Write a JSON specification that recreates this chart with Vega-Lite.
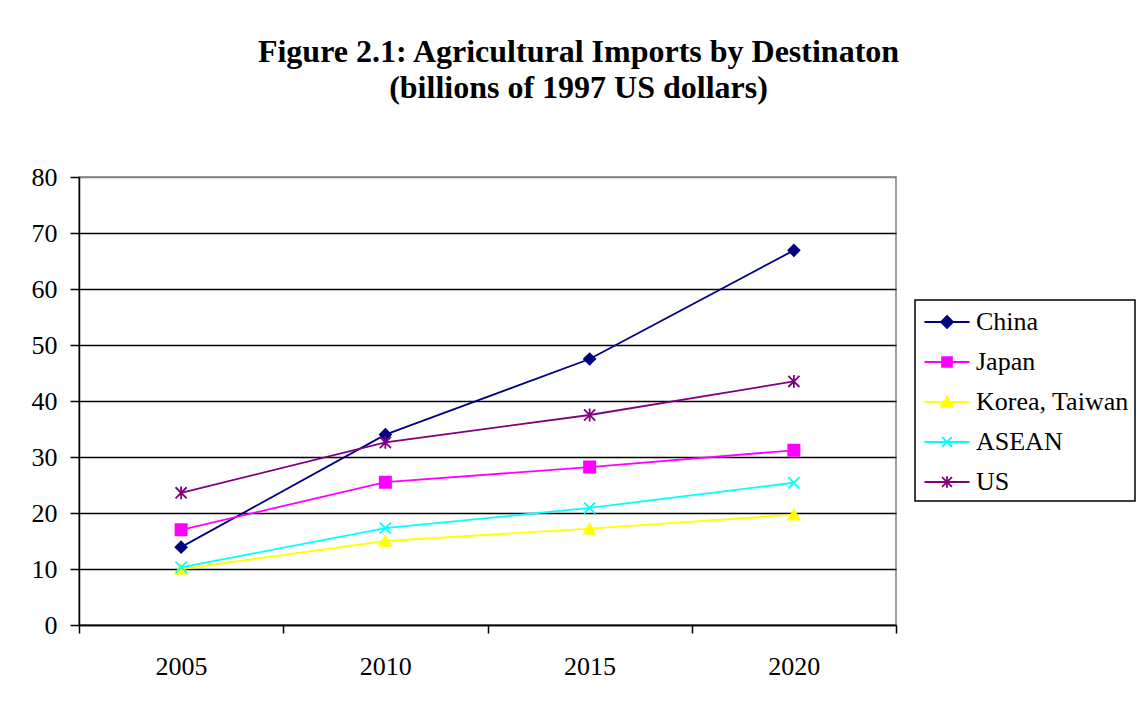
{
  "$schema": "https://vega.github.io/schema/vega-lite/v6.json",
  "width": 817,
  "height": 448,
  "autosize": {"type": "none"},
  "padding": {"left": 79, "top": 177, "right": 242, "bottom": 77},
  "background": "white",
  "title": {
    "text": ["Figure 2.1: Agricultural Imports by Destinaton", "(billions of 1997 US dollars)"],
    "font": "Liberation Serif",
    "fontSize": 32,
    "fontWeight": "bold",
    "lineHeight": 36,
    "color": "black",
    "anchor": "middle",
    "baseline": "alphabetic",
    "dx": 91,
    "offset": 34
  },
  "data": {
    "values": [
      {"region": "China", "year": 2005, "value": 13.9},
      {"region": "China", "year": 2010, "value": 34.0},
      {"region": "China", "year": 2015, "value": 47.5},
      {"region": "China", "year": 2020, "value": 66.9},
      {"region": "Japan", "year": 2005, "value": 17.0},
      {"region": "Japan", "year": 2010, "value": 25.5},
      {"region": "Japan", "year": 2015, "value": 28.2},
      {"region": "Japan", "year": 2020, "value": 31.2},
      {"region": "Korea, Taiwan", "year": 2005, "value": 10.0},
      {"region": "Korea, Taiwan", "year": 2010, "value": 15.0},
      {"region": "Korea, Taiwan", "year": 2015, "value": 17.2},
      {"region": "Korea, Taiwan", "year": 2020, "value": 19.7},
      {"region": "ASEAN", "year": 2005, "value": 10.3},
      {"region": "ASEAN", "year": 2010, "value": 17.3},
      {"region": "ASEAN", "year": 2015, "value": 20.9},
      {"region": "ASEAN", "year": 2020, "value": 25.4},
      {"region": "US", "year": 2005, "value": 23.6},
      {"region": "US", "year": 2010, "value": 32.6},
      {"region": "US", "year": 2015, "value": 37.5},
      {"region": "US", "year": 2020, "value": 43.5}
    ]
  },
  "encoding": {
    "x": {
      "field": "year",
      "type": "quantitative",
      "scale": {"domain": [2002.5, 2022.5], "nice": false, "zero": false},
      "axis": {
        "title": null,
        "grid": false,
        "values": [2002.5, 2007.5, 2012.5, 2017.5, 2022.5],
        "labelExpr": "datum.value < 2020 ? format(datum.value + 2.5, 'd') : ''",
        "labelOffset": 102,
        "labelOverlap": false,
        "labelFlush": false,
        "labelFont": "Liberation Serif",
        "labelFontSize": 26,
        "labelColor": "black",
        "labelPadding": 20,
        "tickSize": 8,
        "tickWidth": 1.5,
        "tickColor": "black",
        "domainColor": "black",
        "domainWidth": 1.5
      }
    },
    "y": {
      "field": "value",
      "type": "quantitative",
      "scale": {"domain": [0, 80], "nice": false},
      "axis": {
        "title": null,
        "values": [0, 10, 20, 30, 40, 50, 60, 70, 80],
        "grid": true,
        "gridColor": {"condition": {"test": "datum.value === 80", "value": "#808080"}, "value": "black"},
        "gridWidth": 1.5,
        "labelFont": "Liberation Serif",
        "labelFontSize": 26,
        "labelColor": "black",
        "labelPadding": 13,
        "tickSize": 9,
        "tickWidth": 1.5,
        "tickColor": "black",
        "domainColor": "black",
        "domainWidth": 1.5
      }
    }
  },
  "layer": [
    {
      "mark": {"type": "line", "strokeWidth": 1.8},
      "encoding": {
        "color": {
          "field": "region",
          "type": "nominal",
          "scale": {
            "domain": ["China", "Japan", "Korea, Taiwan", "ASEAN", "US"],
            "range": ["#000080", "#FF00FF", "#FFFF00", "#00FFFF", "#800080"]
          },
          "legend": {
            "title": null,
            "orient": "none",
            "legendX": 836,
            "legendY": 123,
            "strokeColor": "black",
            "fillColor": "white",
            "padding": 6,
            "rowPadding": 11,
            "symbolSize": 900,
            "symbolOffset": 10,
            "symbolStrokeWidth": 1.8,
            "labelOffset": 13,
            "labelFont": "Liberation Serif",
            "labelFontSize": 26,
            "labelColor": "black",
            "labelLimit": 300,
            "encode": {
              "legend": {
                "update": {"strokeWidth": {"value": 1.5}}
              },
              "symbols": {
                "update": {
                  "shape": {"signal": "datum.value === 'China' ? 'M-1.5,0H1.5M0,-0.4L0.4,0L0,0.4L-0.4,0Z' : datum.value === 'Japan' ? 'M-1.5,0H1.5M-0.33,-0.33H0.33V0.33H-0.33Z' : datum.value === 'Korea, Taiwan' ? 'M-1.5,0H1.5M0,-0.36L0.4,0.33H-0.4Z' : datum.value === 'ASEAN' ? 'M-1.5,0H1.5M-0.33,-0.33L0.33,0.33M-0.33,0.33L0.33,-0.33' : 'M-1.5,0H1.5M-0.33,-0.33L0.33,0.33M-0.33,0.33L0.33,-0.33M0,-0.38V0.38'"},
                  "fill": {"scale": "color", "field": "value"},
                  "stroke": {"scale": "color", "field": "value"}
                }
              }
            }
          }
        }
      }
    },
    {
      "mark": {"type": "point", "size": 125, "strokeWidth": 1.8, "opacity": 1},
      "encoding": {
        "shape": {
          "field": "region",
          "type": "nominal",
          "scale": {
            "domain": ["ASEAN", "China", "Japan", "Korea, Taiwan", "US"],
            "range": ["M-1,-1L1,1M-1,1L1,-1", "diamond", "square", "triangle-up", "M-1,-1L1,1M-1,1L1,-1M0,-1.15V1.15"]
          },
          "legend": null
        },
        "fill": {
          "field": "region",
          "type": "nominal",
          "scale": {
            "domain": ["ASEAN", "China", "Japan", "Korea, Taiwan", "US"],
            "range": ["#00FFFF", "#000080", "#FF00FF", "#FFFF00", "#800080"]
          },
          "legend": null
        },
        "stroke": {
          "field": "region",
          "type": "nominal",
          "scale": {
            "domain": ["ASEAN", "China", "Japan", "Korea, Taiwan", "US"],
            "range": ["#00FFFF", "#000080", "#FF00FF", "#FFFF00", "#800080"]
          },
          "legend": null
        }
      }
    }
  ],
  "config": {
    "view": {"stroke": "#808080", "strokeWidth": 1.5}
  }
}
